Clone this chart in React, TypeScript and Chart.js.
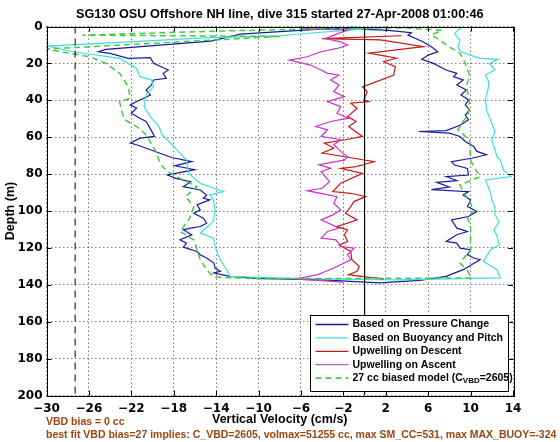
import React, { useEffect, useRef } from "react";
import { Chart, registerables } from "chart.js";

Chart.register(...registerables);

const TITLE = "SG130 OSU Offshore NH line, dive 315 started 27-Apr-2008 01:00:46";
const X_LABEL = "Vertical Velocity (cm/s)";
const Y_LABEL = "Depth (m)";
const NOTE_1 = "VBD bias = 0 cc";
const NOTE_2 = "best fit VBD bias=27 implies: C_VBD=2605, volmax=51255 cc, max SM_CC=531, max MAX_BUOY=-324";

const legendLabels = [
  "Based on Pressure Change",
  "Based on Buoyancy and Pitch",
  "Upwelling on Descent",
  "Upwelling on Ascent",
  "27 cc biased model (C",
];

// Based on Pressure Change (descent then ascent)
const pressureVel = [
  -1, -8, -11.7, -14.5, -24.4, -25.1, -24.0, -22.3, -20.2, -19.9, -18.5, -19.0, -18.7, -19.9, -20.1, -20.6,
  -20.2, -21.2, -22.1, -21.5, -22.0, -21.2, -20.6, -20.2, -19.8, -21.2, -22.1, -21.5, -20.2, -18.2, -16.3,
  -17.9, -16.0, -18.6, -17.8, -16.4, -17.1, -15.5, -14.9, -15.2, -14.6, -15.8, -15.5, -16.1, -15.2, -14.9,
  -15.5, -16.4, -17.1, -16.3, -17.4, -16.8, -17.1, -15.8, -15.5, -14.9, -14.2, -14.1, -13.6, -14.2, -12.7,
  -10.2, -4, 1.4, 5.2, 7.7, 8.1, 9.3, 10.9, 10.3, 9.7, 10.0, 9.0, 8.7, 7.7, 8.7, 9.7, 8.7, 8.4, 8.2, 9.8,
  10.6, 9.7, 10.0, 9.3, 9.8, 6.3, 8.0, 6.8, 8.7, 7.7, 9.8, 9.7, 8.5, 8.2, 10.1, 11.5, 10.6, 10.3, 9.5, 9.0,
  8.0, 5.1, 7.7, 9.0, 9.8, 9.5, 9.9, 9.5, 9.8, 9.1, 9.6, 8.7, 9.3, 8.4, 8.7, 7.7, 7.1, 6.5, 5.4, 6.0, 6.9,
  6.3, 5.5, 4.1, 4.4, 2, -3,
];
const pressureDepth = [
  0.3, 2.8, 4.1, 7.9, 12.4, 13.7, 14.6, 17.3, 16.9, 20, 23.6, 25.4, 28.1, 29, 31.7, 34.4,
  37.1, 39.8, 42.5, 44.3, 47, 49.7, 51.5, 55.5, 59.6, 60.5, 63.2, 64.1, 66.8, 71, 73.2,
  75.5, 77.6, 80.5, 82.3, 84.1, 86.8, 88.6, 91.3, 93.1, 94, 96.7, 99.4, 101.2, 103.9, 106.6,
  108.4, 109.3, 110.2, 112.9, 115.6, 117.4, 119.6, 121.9, 123.7, 125.5, 128.2, 130.9, 132.7, 133.6, 135.4,
  136.5, 137.3, 139, 137.6, 135.4, 134.5, 131.8, 126.4, 125.5, 123.7, 121, 120.1, 117.4, 116.5, 112.9, 111.1, 109.3, 106.6, 104.8, 103,
  100.3, 97.6, 94, 91.3, 89.5, 88.4, 87, 84.5, 83.5, 81.4, 80.5, 76.9, 75.1, 73.3, 71.4, 69.5, 67.7, 65, 62.3, 59.6,
  57.8, 56.9, 56.4, 53.5, 50.6, 48, 45.2, 42.5, 39.8, 37.1, 34.4, 31.7, 29, 27.2, 25.4, 23.6, 21.8, 20, 17.8, 15.5, 13.7,
  11, 8.3, 4.7, 3.4, 2, 1,
];

// Based on Buoyancy and Pitch
const buoyVel = [
  2, -6.5, -8, -14.6, -29.9, -27.5, -23.1, -21.5, -21.2, -20.1, -19.9, -20.6, -20.8, -20.2, -19.4, -19.1,
  -18.3, -17.4, -16.8, -16.6, -15.5, -13.3, -14.6, -14.25, -14.1, -14.25, -15.5, -14.25, -14.1, -13.8,
  -13.6, -13.0, -12.7, -6.1, 3, 12.8, 12.5, 11.2, 11.5, 11.9, 12.7, 12.5, 12.2, 12.7, 12.3, 12.3, 12.0,
  11.9, 11.6, 11.4, 13.8, 13.1, 12.8, 12.5, 12.0, 12.3, 12.0, 11.5, 11.4, 11.7, 11.7, 11.4, 12.3, 11.8,
  12.6, 10.9, 9.1, 8.8, 9.0, 8.5, 8.8, 9.3,
];
const buoyDepth = [
  0.5, 4.2, 5.1, 6, 10.6, 13.7, 17.3, 22.7, 27.2, 29, 32.6, 37.1, 43.4, 48.8, 54.2, 58.7,
  63.2, 68.6, 72.3, 79.6, 85, 89.5, 91.3, 94, 99.4, 105.7, 112, 114.7, 119.2, 123.7,
  126.4, 131.8, 135.4, 136.7, 137.3, 136.3, 131.8, 127.3, 124.6, 121, 118.3, 113.8, 110.2, 105.7, 102.1, 97.6, 94,
  90.4, 85.9, 83.2, 81.4, 77.8, 72.4, 70.5, 61.4, 56.9, 52.4, 45.2, 39.8, 32.6, 29.9, 26.3, 23.6, 20,
  17.8, 17.3, 13.7, 11, 7.4, 3.8, 2, 0.2,
];

// Upwelling on Descent
const descentVel = [
  3.5, -4.0, 1.5, 5.55, 0.4, 3.0, 1.8, 2.9, 2.75, 0.7, -0.2, 0.25, -0.06, 0.4, -1.3, -0.7, -1.6, -0.8,
  -1.5, -0.2, -1.8, -3.8, -2.9, -4.0, -1.0, 0.9, -0.8, -2.25, -0.2, -2.25, -3.0, -1.3, 0.1, -1.0, -1.3,
  -1.8, -0.7, -2.6, -1.6, -1.9, -1.6, -2.4, -1.3, -1.2, -0.5, -0.7, -1.5, 0.25, 1.8,
];
const descentDepth = [
  5.0, 6.6, 7.3, 10.9, 14.4, 17.2, 19.1, 21.8, 26.3, 30.8, 32.6, 35.3, 39.8, 40.7, 41.6, 44.3, 48.8, 51.5,
  54.2, 59.6, 61.4, 63.2, 65.9, 68.6, 71.4, 73.3, 75.9, 76.9, 79.6, 85, 89.5, 90.4, 92.2, 94.9, 97.6,
  101.2, 104.8, 108.5, 110.2, 112.9, 116.5, 118.5, 121.9, 126.4, 130, 132.7, 134.5, 135.8, 136.8,
];

// Upwelling on Ascent
const ascentVel = [
  -2.0, -6.5, -4.4, -2.9, -1.3, -1.6, -1.0, -2.25, -2.7, -4.1, -3.5, -2.4, -4.1, -3.0, -2.25, -2.9, -2.6,
  -5.4, -4.0, -3.3, -4.1, -3.2, -4.3, -1.9, -1.6, -2.25, -2.9, -2.25, -4.1, -3.5, -4.6, -3.2, -1.5, -2.6,
  -2.25, -3.5, -1.9, -2.9, -2.4, -3.2, -2.4, -3.5, -4.1, -5.1, -7.1, -5.4, -4.1, -2.6, -1.6, -2.25, -3.7,
  -2.9, -1.6, -6,
];
const ascentDepth = [
  138.5, 136.8, 134.5, 130.9, 126.4, 123.7, 120.1, 119.2, 115.6, 114.7, 111.1, 109.3, 104.8, 102.1, 99.4, 95.8, 92.2,
  89, 87.7, 84.1, 78.7, 76.9, 74.9, 72.4, 70.5, 67.7, 64.1, 61.4, 59.6, 56, 54.2, 51.5, 49.7, 47,
  43.4, 40.7, 38, 35.3, 31.7, 29, 26.3, 25.4, 23.6, 20.9, 18.2, 16.4, 13.7, 11.9, 10.1, 8.3, 6.5,
  4.7, 2, 1,
];

// 27 cc biased model
const modelVel = [
  1, -14, -26.6, -8, -30, -25.9, -24.4, -23.1, -22.3, -22.1, -23.1, -22.9, -22.6, -21.5, -20.6, -19.6,
  -19.3, -18.6, -17.4, -15.8, -16.9, -16.1, -16.5, -17.4, -16.1, -15.8, -15.5, -14.9, -14.25, -9.9, 10.1,
  9.65, 9.0, 10.0, 10.0, 10.0, 9.65, 10.3, 10.0, 9.5, 9.0, 10.9, 10.3, 10.0, 9.9, 8.8, 9.8, 9.9, 9.6, 9.9,
  9.5, 9.0, 8.0, 7.1, 6.3, 7.3, 4, -10,
];
const modelDepth = [
  0.6, 2.5, 4.7, 5.4, 12.2, 16.4, 20, 25.4, 32.6, 38.9, 40.7, 46.1, 50.6, 54.2, 58.7, 68.6,
  74.2, 78.7, 82.3, 86.8, 92.2, 97.6, 104, 111.1, 115.6, 121, 126.4, 131.8, 135.8, 136.7, 136.3,
  131.8, 128.2, 121, 115.6, 108.4, 103, 100.3, 95.8, 91.3, 85.9, 81.4, 76, 72.4, 61.4, 56, 47, 39.8, 32.6, 26.3,
  20, 14.6, 11, 7.4, 4.7, 2, 0.8, 0.3,
];

const biasLineVel = -27.3;
const zeroLineVel = 0;
const depthRange = [0, 200];

const COLORS = {
  pressure: "#1a1a9e",
  buoy: "#3fdede",
  descent: "#c41a1a",
  ascent: "#cc33cc",
  model: "#44cc44",
};

const pts = (xs: number[], ys: number[]) => xs.map((x, i) => ({ x, y: ys[i] }));
const fmt = (v: number) => (v < 0 ? "\u2212" + Math.abs(v) : String(v));

const framePlugin = {
  id: "frame",
  afterDraw(chart: any) {
    const { ctx, chartArea: ca, scales } = chart;
    const xs = scales.x;
    const ys = scales.y;
    ctx.save();
    // frame
    ctx.strokeStyle = "#000";
    ctx.lineWidth = 1;
    ctx.setLineDash([]);
    ctx.strokeRect(Math.round(ca.left) + 0.5, Math.round(ca.top) + 0.5, Math.round(ca.right - ca.left), Math.round(ca.bottom - ca.top));
    // inward ticks
    const tl = 5;
    ctx.beginPath();
    xs.ticks.forEach((t: any) => {
      const p = Math.round(xs.getPixelForValue(t.value)) + 0.5;
      ctx.moveTo(p, ca.bottom);
      ctx.lineTo(p, ca.bottom - tl);
      ctx.moveTo(p, ca.top);
      ctx.lineTo(p, ca.top + tl);
    });
    ys.ticks.forEach((t: any) => {
      const p = Math.round(ys.getPixelForValue(t.value)) + 0.5;
      ctx.moveTo(ca.left, p);
      ctx.lineTo(ca.left + tl, p);
      ctx.moveTo(ca.right, p);
      ctx.lineTo(ca.right - tl, p);
    });
    ctx.stroke();

    // legend
    const bw = 198;
    const bh = 76;
    const bx = Math.round(ca.right - 5 - bw) + 0.5;
    const by = Math.round(ca.bottom - 4.5 - bh) + 0.5;
    ctx.fillStyle = "#fff";
    ctx.fillRect(bx, by, bw, bh);
    ctx.strokeStyle = "#000";
    ctx.strokeRect(bx, by, bw, bh);
    const cols = [COLORS.pressure, COLORS.buoy, COLORS.descent, "#b066c4", COLORS.model];
    ctx.font = "bold 10.5px 'Liberation Sans', Arial, sans-serif";
    ctx.textBaseline = "middle";
    ctx.textAlign = "left";
    for (let i = 0; i < 5; i++) {
      const yy = by + 9 + i * 13.4;
      ctx.strokeStyle = cols[i];
      ctx.lineWidth = i === 4 ? 1.6 : 1.3;
      ctx.setLineDash(i === 4 ? [6, 4] : []);
      ctx.beginPath();
      ctx.moveTo(bx + 5, yy);
      ctx.lineTo(bx + 38, yy);
      ctx.stroke();
      ctx.setLineDash([]);
      ctx.fillStyle = "#000";
      ctx.font = "bold 10.5px 'Liberation Sans', Arial, sans-serif";
      ctx.fillText(legendLabels[i], bx + 42, yy);
      if (i === 4) {
        let tx = bx + 42 + ctx.measureText(legendLabels[i]).width;
        ctx.font = "bold 8px 'Liberation Sans', Arial, sans-serif";
        ctx.fillText("VBD", tx, yy + 3);
        tx += ctx.measureText("VBD").width;
        ctx.font = "bold 10.5px 'Liberation Sans', Arial, sans-serif";
        ctx.fillText("=2605)", tx, yy);
      }
    }

    // notes under the axes
    ctx.fillStyle = "#9a4612";
    ctx.font = "bold 10.5px 'Liberation Sans', Arial, sans-serif";
    ctx.textBaseline = "middle";
    ctx.fillText(NOTE_1, 46, 422.5);
    ctx.fillText(NOTE_2, 46, 435.5);
    ctx.restore();
  },
};

export default function App() {
  const ref = useRef<HTMLCanvasElement>(null);
  useEffect(() => {
    const line = (label: string, xs: number[], ys: number[], color: string, order: number, extra: any = {}) => ({
      label,
      data: pts(xs, ys),
      showLine: true,
      borderColor: color,
      backgroundColor: color,
      borderWidth: 1.2,
      pointRadius: 0,
      fill: false,
      tension: 0,
      order,
      ...extra,
    });
    const chart = new Chart(ref.current as HTMLCanvasElement, {
      type: "scatter",
      data: {
        datasets: [
          line(legendLabels[0], pressureVel, pressureDepth, COLORS.pressure, 7),
          line(legendLabels[1], buoyVel, buoyDepth, COLORS.buoy, 6),
          line(legendLabels[2], descentVel, descentDepth, COLORS.descent, 5),
          line(legendLabels[3], ascentVel, ascentDepth, COLORS.ascent, 4),
          line("model", modelVel, modelDepth, COLORS.model, 3, { borderDash: [6, 4], borderWidth: 1.5 }),
          line("bias", [biasLineVel, biasLineVel], depthRange, "#000", 2, { borderDash: [7, 5], borderWidth: 1 }),
          line("zero", [zeroLineVel, zeroLineVel], depthRange, "#000", 1, { borderWidth: 1.2 }),
        ],
      },
      options: {
        responsive: false,
        animation: false,
        events: [],
        layout: { padding: { left: 0, right: 47, top: 0, bottom: 0 } },
        plugins: {
          legend: { display: false },
          tooltip: { enabled: false },
          title: {
            display: true,
            text: TITLE,
            color: "#000",
            fullSize: false,
            font: { family: "'Liberation Sans', Arial, sans-serif", size: 12.7, weight: "bold" },
            padding: { top: 6.4, bottom: 4.86 },
          },
        },
        scales: {
          x: {
            type: "linear",
            position: "bottom",
            min: -30,
            max: 14,
            afterFit: (s: any) => {
              s.height = 46.5;
            },
            ticks: {
              stepSize: 4,
              color: "#000",
              padding: 6,
              font: { family: "'DejaVu Sans', sans-serif", size: 12, weight: "bold" },
              callback: (v: any) => fmt(Number(v)),
            },
            grid: { color: "rgba(0,0,0,0.5)", lineWidth: 1, drawTicks: false },
            border: { display: false, dash: [1.5, 2.5] },
            title: {
              display: true,
              text: X_LABEL,
              color: "#000",
              font: { family: "'Liberation Sans', Arial, sans-serif", size: 12.5, weight: "bold" },
              padding: { top: 0, bottom: 14.5 },
            },
          },
          y: {
            type: "linear",
            reverse: true,
            min: 0,
            max: 200,
            afterFit: (s: any) => {
              s.width = 46.5;
            },
            ticks: {
              stepSize: 20,
              color: "#000",
              padding: 4,
              font: { family: "'DejaVu Sans', sans-serif", size: 12, weight: "bold" },
              callback: (v: any) => fmt(Number(v)),
            },
            grid: { color: "rgba(0,0,0,0.5)", lineWidth: 1, drawTicks: false },
            border: { display: false, dash: [1.5, 2.5] },
            title: {
              display: true,
              text: Y_LABEL,
              color: "#000",
              font: { family: "'Liberation Sans', Arial, sans-serif", size: 12.5, weight: "bold" },
              padding: { top: 3, bottom: 0 },
            },
          },
        },
      } as any,
      plugins: [framePlugin],
    });
    return () => chart.destroy();
  }, []);
  return (
    <div style={{ position: "absolute", left: 0, top: 0, width: 560, height: 442, background: "#fff" }}>
      <canvas ref={ref} width={560} height={442} style={{ width: 560, height: 442, display: "block" }} />
    </div>
  );
}
